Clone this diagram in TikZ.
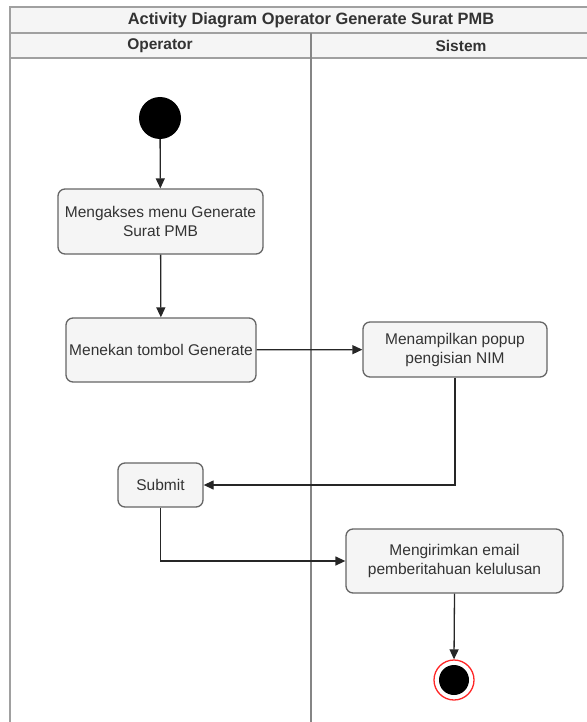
\documentclass[tikz,border=0pt]{standalone}
\usepackage{fontspec}
\setmainfont{Liberation Sans}
\usetikzlibrary{arrows.meta}
\definecolor{boxfill}{HTML}{F5F5F5}
\definecolor{boxline}{HTML}{666666}
\definecolor{txt}{HTML}{333333}
\definecolor{lane}{HTML}{A0A0A0}
\tikzset{
  act/.style={draw=boxline, fill=boxfill, rounded corners=7pt, line width=1.3pt,
    text=txt, font=\fontsize{15.5}{19}\selectfont, align=center, inner sep=0pt},
  flow/.style={-{Triangle[length=10pt,width=9pt]}, line width=1.3pt, draw=black!85},
  hdr/.style={draw=lane, fill=boxfill, line width=1.2pt},
  hdrtext/.style={font=\fontsize{15.5}{19}\selectfont\bfseries, text=black!80}
}
\begin{document}
\begin{tikzpicture}[x=1pt,y=-1pt]
\useasboundingbox (0,0) rectangle (586,722);
% swimlane frame
\draw[hdr] (10,7) rectangle (600,33);
\node[hdrtext, font=\fontsize{16.4}{19}\selectfont\bfseries] (title) at (311,20) {Activity Diagram Operator Generate Surat PMB};
\draw[hdr] (10,33) rectangle (600,58);
\draw[lane, line width=1.2pt] (10,58) -- (10,730);
\draw[boxline!80, line width=1.5pt] (311,33) -- (311,730);
\node[hdrtext] (op) at (160,45.5) {Operator};
\node[hdrtext] (si) at (461,45.5) {Sistem};
% nodes
\node[circle, fill=black, minimum size=42pt, inner sep=0pt] (start) at (160,118) {};
\node[act, minimum width=205pt, minimum height=65pt] (a1) at (160.5,221.5) {Mengakses menu Generate\\Surat PMB};
\node[act, minimum width=190pt, minimum height=64pt] (a2) at (161,350) {Menekan tombol Generate};
\node[act, minimum width=184pt, minimum height=55pt] (a3) at (455,349.5) {Menampilkan popup\\pengisian NIM};
\node[act, minimum width=85pt, minimum height=44pt] (a4) at (160.5,485) {Submit};
\node[act, minimum width=217pt, minimum height=64pt] (a5) at (454.5,561) {Mengirimkan email\\pemberitahuan kelulusan};
\node[circle, draw=red!85, line width=1.3pt, minimum size=40pt, inner sep=0pt] (end) at (454,680) {};
\node[circle, fill=black, minimum size=30pt, inner sep=0pt] (endin) at (end) {};
% flows
\draw[flow] (start) -- (a1);
\draw[flow] (a1) -- (a2);
\draw[flow] (a2) -- (a3);
\draw[flow] (a3.south) |- (a4.east);
\draw[flow] (a4.south) |- (a5.west);
\draw[flow] (a5.south) -- (end.north);
\end{tikzpicture}
\end{document}
